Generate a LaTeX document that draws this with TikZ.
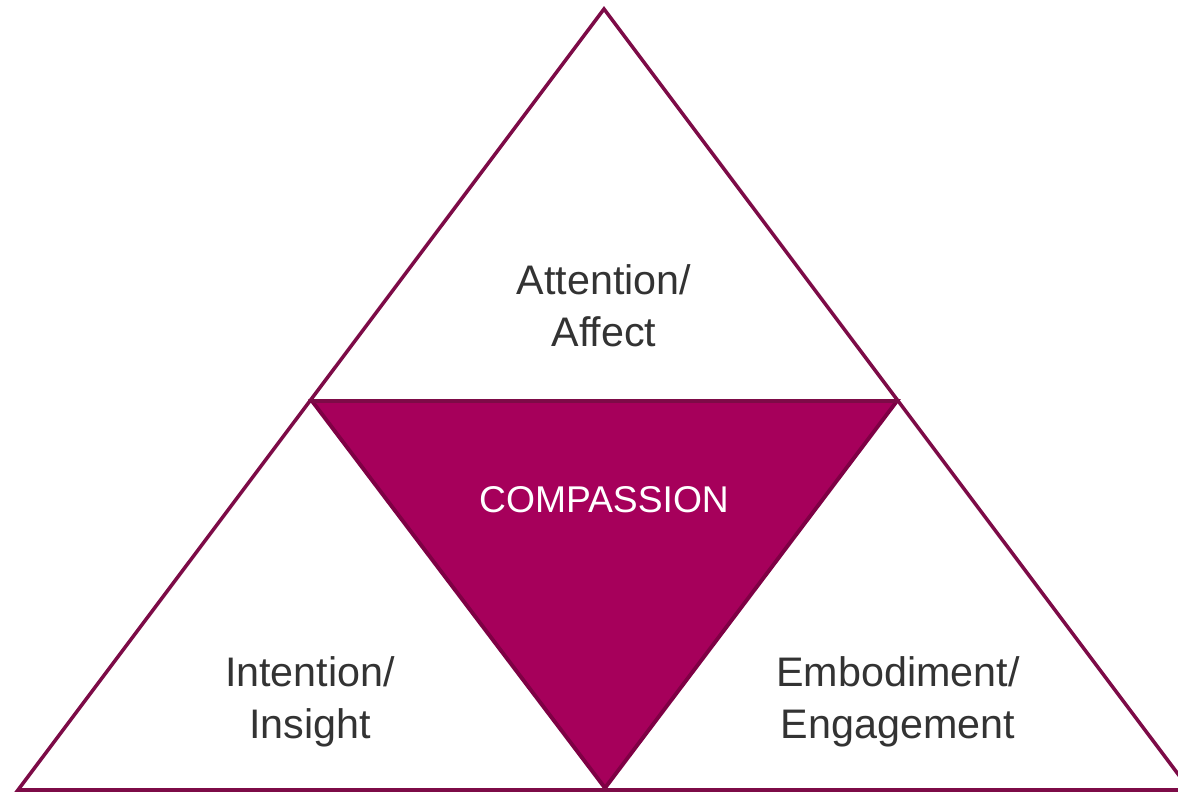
\documentclass[tikz,border=0pt]{standalone}
\usepackage{fontspec}
\setmainfont{Liberation Sans}
\definecolor{plum}{HTML}{7D0B47}
\definecolor{berry}{HTML}{A6005B}
\definecolor{berryedge}{HTML}{7E0044}
\definecolor{labelgray}{HTML}{333333}

\begin{document}
\begin{tikzpicture}[x=0.02cm, y=-0.02cm,
  every node/.style = {align=center, text=labelgray,
    font=\fontsize{23.5}{29.5}\selectfont}]
  \useasboundingbox (0,0) rectangle (1178,793);
  \clip (0,0) rectangle (1178,793);
  % corners
  \coordinate (apex) at (604,9);
  \coordinate (left) at (18,790);
  \coordinate (right) at (1190,790);
  \coordinate (midl) at (312,401);
  \coordinate (midr) at (897,401);
  \coordinate (midb) at (605,788);
  % centre triangle
  \filldraw[fill=berry, draw=berryedge, line width=2.2pt, line join=miter]
    (midl) -- (midr) -- (midb) -- cycle;
  % outer triangle
  \draw[plum, line width=2pt, line join=miter]
    (apex) -- (left) -- (right) -- cycle;
  \draw[plum, line width=2pt] (midl) -- (midr);
  % labels
  \node (attention) at (604,306) {Attention/\\Affect};
  \node (intention) at (310,702) {Intention/\\Insight};
  \node (embodiment) at (898,702) {Embodiment/\\Engagement};
  \node[text=white, font=\fontsize{21.2}{25}\selectfont] (compassion) at (604,500) {COMPASSION};
\end{tikzpicture}
\end{document}
